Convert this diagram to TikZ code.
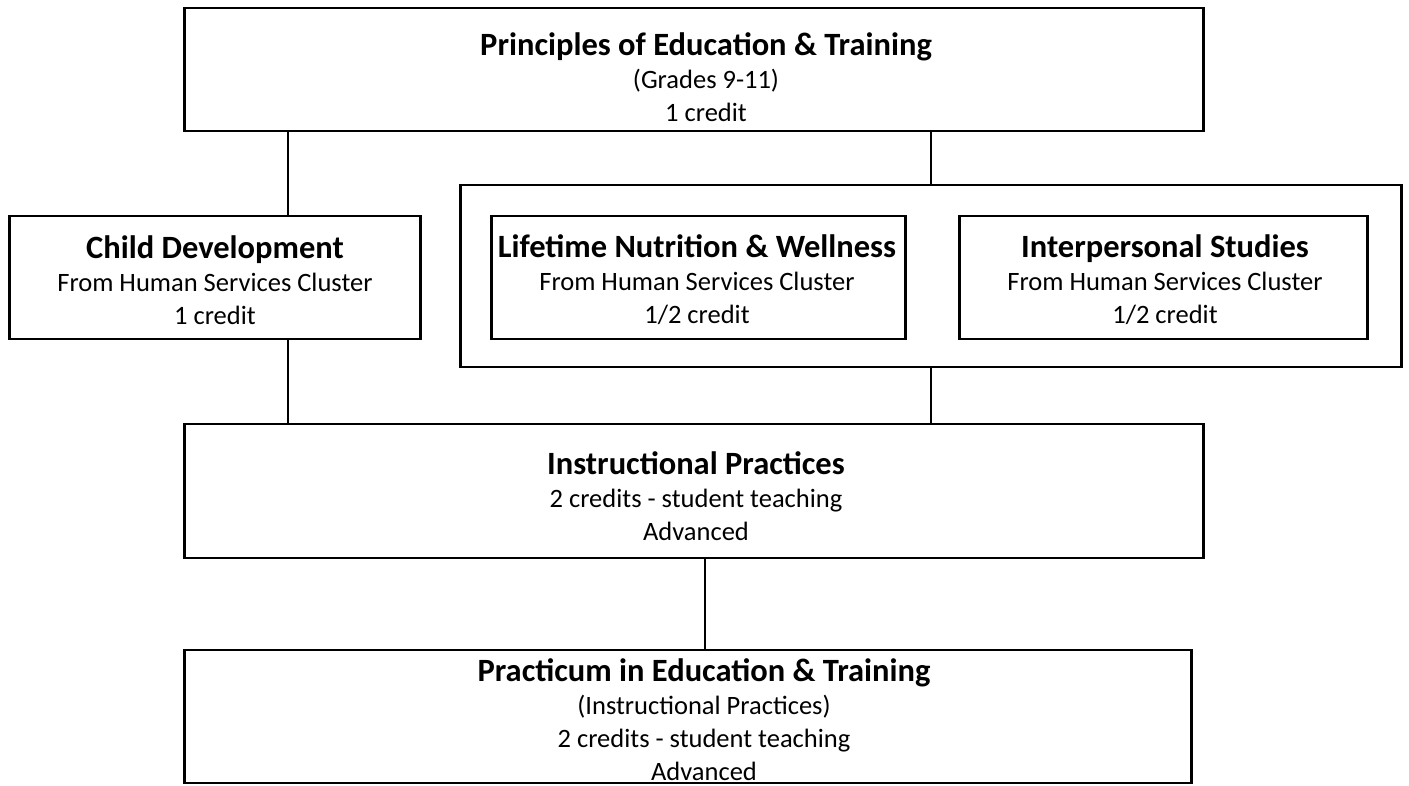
\documentclass[tikz,border=0pt]{standalone}
\usepackage{fontspec}
\setmainfont{Carlito}
\usepackage{tikz}

\begin{document}
\begin{tikzpicture}[x=1pt,y=1pt,
  box/.style={draw=black,line width=2.5pt,rectangle,inner sep=0pt},
  label/.style={align=center,font=\fontsize{26.5}{33}\selectfont},
  wire/.style={draw=black,line width=2.5pt}]
\newcommand{\boxhead}[1]{{\bfseries\fontsize{32.5}{33}\selectfont #1}}
\useasboundingbox[fill=white] (0,0) rectangle (1409,-785);
% Drawing boxes
\node[box,minimum width=1019pt,minimum height=123pt] (prin) at (694,-69.5) {};
\node[box,minimum width=411pt,minimum height=123pt] (child) at (215,-277.5) {};
\node[box,minimum width=941pt,minimum height=182pt] (grp) at (931,-276) {};
\node[box,minimum width=414pt,minimum height=123pt] (life) at (698.5,-277.5) {};
\node[box,minimum width=408pt,minimum height=123pt] (inter) at (1163.5,-277.5) {};
\node[box,minimum width=1019pt,minimum height=134pt] (instr) at (694,-491) {};
\node[box,minimum width=1007pt,minimum height=133pt] (prac) at (688,-716.5) {};
% Done with boxes; drawing texts
\node[label] (prinT) at (706,-77) {\boxhead{Principles of Education \& Training}\\(Grades 9-11)\\1 credit};
\node[label] (childT) at (215,-280) {\boxhead{Child Development}\\From Human Services Cluster\\1 credit};
\node[label] (lifeT) at (697,-280) {\boxhead{Lifetime Nutrition \& Wellness}\\From Human Services Cluster\\1/2 credit};
\node[label] (interT) at (1165,-280) {\boxhead{Interpersonal Studies}\\From Human Services Cluster\\1/2 credit};
\node[label] (instrT) at (696,-496) {\boxhead{Instructional Practices}\\2 credits - student teaching\\Advanced};
\node[label] (pracT) at (704,-720) {\boxhead{Practicum in Education \& Training}\\(Instructional Practices)\\2 credits - student teaching\\Advanced};
% Done with texts; drawing connectors
\draw[wire] ([xshift=73pt]child.north) -- ([xshift=73pt]child.north |- prin.south);
\draw[wire] (grp.north) -- (grp.north |- prin.south);
\draw[wire] ([xshift=73pt]child.south) -- ([xshift=73pt]child.south |- instr.north);
\draw[wire] (grp.south) -- (grp.south |- instr.north);
\draw[wire] ([xshift=11pt]instr.south) -- ([xshift=11pt]instr.south |- prac.north);
% Done with connectors
\end{tikzpicture}
\end{document}
